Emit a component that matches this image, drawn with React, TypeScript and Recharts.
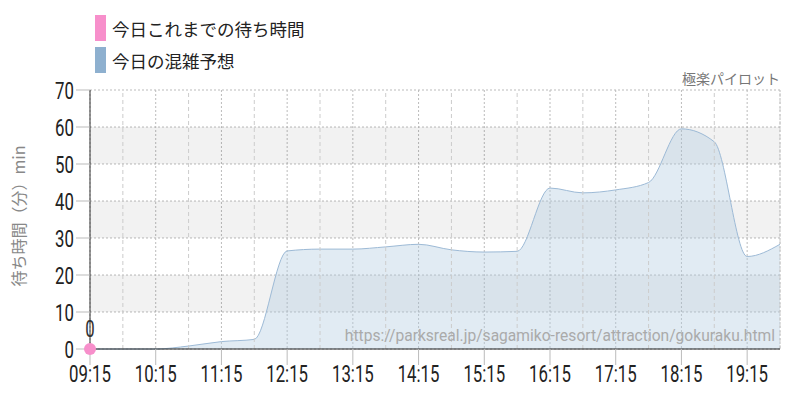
import { AreaChart, Area, Line, XAxis, YAxis, CartesianGrid, ReferenceArea, ReferenceLine } from 'recharts';

// forecast every 30 min
const times = ['09:15', '09:45', '10:15', '10:45', '11:15', '11:45', '12:15', '12:45', '13:15', '13:45', '14:15', '14:45', '15:15', '15:45', '16:15', '16:45', '17:15', '17:45', '18:15', '18:45', '19:15', '19:45'];
const forecast = [0, 0, 0, 0.8, 2, 2.6, 26.5, 27, 27, 27.6, 28.3, 26.8, 26.2, 26.4, 43.5, 42.2, 43, 45, 59.5, 56, 25, 28.3];
// only one observation so far
const actual = [0];

const xTickLabels = ['09:15', '10:15', '11:15', '12:15', '13:15', '14:15', '15:15', '16:15', '17:15', '18:15', '19:15'];
const yTicks = [0, 10, 20, 30, 40, 50, 60, 70];
const bands = [[10, 20], [30, 40], [50, 60]];

const toMin = (t: string) => {
  const [h, m] = t.split(':').map(Number);
  return h * 60 + m;
};
const fmt = (m: number) => `${String(Math.floor(m / 60)).padStart(2, '0')}:${String(m % 60).padStart(2, '0')}`;

const data = times.map((t, i) => ({
  t: toMin(t),
  forecast: forecast[i],
  actual: i < actual.length ? actual[i] : null,
}));

const halfHours = times.filter((t) => t.endsWith(':45')).map(toMin);

const PINK = '#f78fcb';
const BLUE = '#8eb0cf';

const XTick = ({ x, y, payload }: any) => (
  <g transform={`translate(${x},${y})`}>
    <text transform="scale(0.7,1)" textAnchor="middle" dy="0.71em" fontFamily="Roboto" fontSize={24} fill="#222">
      {fmt(payload.value)}
    </text>
  </g>
);

const YTick = ({ x, y, payload }: any) => (
  <g transform={`translate(${x},${y})`}>
    <text transform="scale(0.7,1)" textAnchor="end" dy="0.36em" fontFamily="Roboto" fontSize={24} fill="#222">
      {payload.value}
    </text>
  </g>
);

const PointLabel = ({ x, y, value }: any) =>
  value == null ? null : (
    <g transform={`translate(${x},${y - 12})`}>
      <text transform="scale(0.7,1)" textAnchor="middle" fontFamily="Roboto" fontSize={24} fill="#333">
        {value}
      </text>
    </g>
  );

const LegendRow = ({ color, text, top }: { color: string; text: string; top: number }) => (
  <div style={{ position: 'absolute', left: 95, top, display: 'flex', alignItems: 'center', height: 26 }}>
    <div style={{ width: 11, height: 26, background: color }} />
    <span style={{ marginLeft: 6, fontSize: 17.5, color: '#222', fontFamily: '"Noto Sans CJK JP"' }}>{text}</span>
  </div>
);

export default function App() {
  return (
    <div style={{ position: 'absolute', left: 0, top: 0, width: 800, height: 400, background: '#fff' }}>
      <AreaChart width={800} height={400} data={data} margin={{ top: 90, right: 20, bottom: 0, left: 0 }}>
        {bands.map(([a, b]) => (
          <ReferenceArea key={a} y1={a} y2={b} fill="#000" fillOpacity={0.05} stroke="none" ifOverflow="hidden" />
        ))}
        <CartesianGrid stroke="#bbb" strokeDasharray="2 2" />
        {halfHours.map((m) => (
          <ReferenceLine key={m} x={m} stroke="#ccc" strokeDasharray="4 3" />
        ))}
        <XAxis
          dataKey="t"
          type="number"
          domain={[toMin(times[0]), toMin(times[times.length - 1])]}
          ticks={xTickLabels.map(toMin)}
          tick={<XTick />}
          tickSize={16}
          tickMargin={0}
          tickLine={{ stroke: '#bbb' }}
          axisLine={{ stroke: '#222' }}
          height={51}
        />
        <YAxis
          domain={[0, 70]}
          ticks={yTicks}
          tick={<YTick />}
          tickSize={14}
          tickMargin={2}
          tickLine={{ stroke: '#bbb' }}
          axisLine={{ stroke: '#333' }}
          width={90}
        />
        <Area
          type="monotone"
          dataKey="forecast"
          stroke="#9dbad6"
          strokeWidth={1}
          fill="#b4cce2"
          fillOpacity={0.4}
          isAnimationActive={false}
        />
        <Line
          dataKey="actual"
          stroke={PINK}
          strokeWidth={2}
          dot={{ r: 6, fill: PINK, stroke: 'none' }}
          label={<PointLabel />}
          isAnimationActive={false}
        />
      </AreaChart>

      <LegendRow color={PINK} text="今日これまでの待ち時間" top={15} />
      <LegendRow color={BLUE} text="今日の混雑予想" top={47} />

      <div style={{ position: 'absolute', right: 20, top: 68, fontSize: 14, color: '#777', fontFamily: '"Noto Sans CJK JP"' }}>
        極楽パイロット
      </div>
      <div
        style={{
          position: 'absolute',
          left: 18,
          top: 216,
          transform: 'translate(-50%,-50%) rotate(-90deg)',
          whiteSpace: 'nowrap',
          fontSize: 16,
          color: '#888',
          fontFamily: '"Noto Sans CJK JP"',
        }}
      >
        待ち時間（分）min
      </div>
      <div
        style={{
          position: 'absolute',
          right: 25,
          top: 327,
          fontSize: 15.6,
          color: '#aaa',
          fontFamily: 'Roboto',
          whiteSpace: 'nowrap',
        }}
      >
        https://parksreal.jp/sagamiko-resort/attraction/gokuraku.html
      </div>
    </div>
  );
}
